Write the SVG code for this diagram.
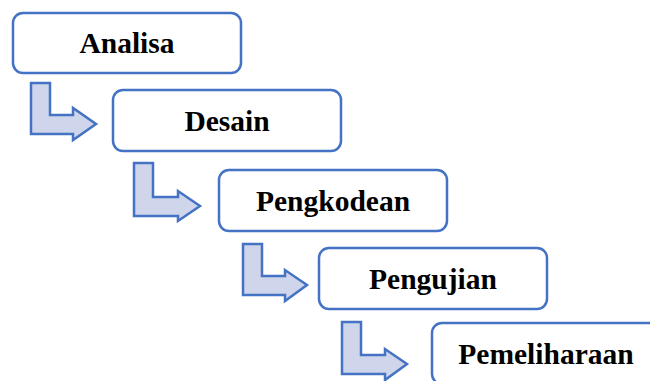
<svg xmlns="http://www.w3.org/2000/svg" width="650" height="381" viewBox="0 0 650 381">
<style>
.box{fill:#fff;stroke:#4472C4;stroke-width:2.5}
.arr{fill:#CFD5EA;stroke:#4472C4;stroke-width:2.5;stroke-linejoin:miter}
.lbl{font-family:"Liberation Serif","Times New Roman",serif;font-weight:bold;font-size:29.5px;fill:#000;text-anchor:middle}
</style>
<rect width="650" height="381" fill="#fff"/>
<g id="connectors">
<path class="arr" d="M31,83 H50 V115 H73 V108 L96,124 L73,140 V134 H31 Z"/>
<path class="arr" d="M134,163 H153 V197 H178 V191 L200,206 L178,221 V216 H134 Z"/>
<path class="arr" d="M243,244 H262 V276 H285 V270 L307,285 L285,301 V295 H243 Z"/>
<path class="arr" d="M342,322 H361 V355 H385 V349 L407,364 L385,380 V374 H342 Z"/>
</g>
<g id="analisa"><rect class="box" x="13" y="13" width="228" height="60" rx="10"/><text class="lbl" x="127" y="53">Analisa</text></g>
<g id="desain"><rect class="box" x="113" y="90" width="228" height="61" rx="10"/><text class="lbl" x="227" y="131">Desain</text></g>
<g id="pengkodean"><rect class="box" x="219" y="170" width="228" height="61" rx="10"/><text class="lbl" x="333" y="211">Pengkodean</text></g>
<g id="pengujian"><rect class="box" x="319" y="248" width="228" height="61" rx="10"/><text class="lbl" x="433" y="289">Pengujian</text></g>
<g id="pemeliharaan"><rect class="box" x="432" y="323" width="228" height="61" rx="10"/><text class="lbl" x="546" y="364">Pemeliharaan</text></g>
</svg>
